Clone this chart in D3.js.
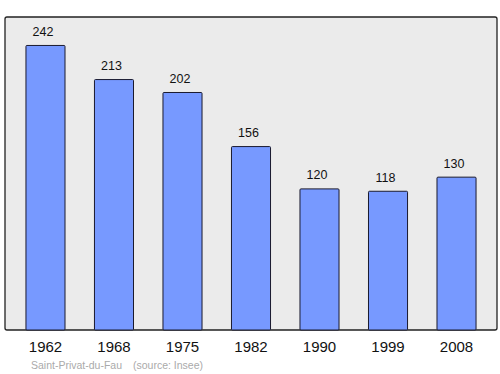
<!DOCTYPE html>
<html>
<head>
<meta charset="utf-8">
<script src="https://cdn.jsdelivr.net/npm/d3@7"></script>
<style>
  body { margin: 0; background: #fff; }
  svg { display: block; font-family: "Liberation Sans", Arial, sans-serif; }
</style>
</head>
<body>
<svg width="500" height="374"></svg>
<script>
const years = ["1962", "1968", "1975", "1982", "1990", "1999", "2008"];
const population = [242, 213, 202, 156, 120, 118, 130];
const commune = "Saint-Privat-du-Fau";
const source = "(source: Insee)";

let width = 500;
let height = 374;
let plot = { left: 5, top: 17, right: 497, bottom: 330 };

let svg = d3.select("svg").attr("width", width).attr("height", height);

let x = d3
  .scaleBand()
  .domain(years)
  .range([plot.left, plot.right])
  .paddingInner(0.43)
  .paddingOuter(0.306);

let y = d3
  .scaleLinear()
  .domain([0, d3.max(population) * 1.1])
  .range([plot.bottom, plot.top]);

// background frame
svg
  .append("rect")
  .attr("x", plot.left)
  .attr("y", plot.top)
  .attr("width", plot.right - plot.left)
  .attr("height", plot.bottom - plot.top)
  .attr("rx", 2)
  .attr("fill", "#ebebeb")
  .attr("stroke", "#222")
  .attr("stroke-width", 1.3);

let data = years.map((yr, i) => ({ year: yr, value: population[i] }));

svg
  .append("g")
  .selectAll("rect")
  .data(data)
  .enter()
  .append("rect")
  .attr("x", d => x(d.year))
  .attr("y", d => y(d.value))
  .attr("width", x.bandwidth())
  .attr("height", d => plot.bottom - y(d.value))
  .attr("rx", 1)
  .attr("fill", "#7799ff")
  .attr("stroke", "#1a1a2e")
  .attr("stroke-width", 1);

// value labels (sit a bit left of bar centre, as in the original)
svg
  .append("g")
  .selectAll("text")
  .data(data)
  .enter()
  .append("text")
  .attr("x", d => x(d.year) + x.bandwidth() / 2 - 2.5)
  .attr("y", d => y(d.value) - 9.5)
  .attr("text-anchor", "middle")
  .attr("font-size", 12.5)
  .attr("fill", "#111")
  .text(d => d.value);

// year labels
let xAxis = d3.axisBottom(x).tickSize(0).tickPadding(11);
let axisG = svg
  .append("g")
  .attr("transform", `translate(0,${plot.bottom})`)
  .call(xAxis);
axisG.select(".domain").remove();
axisG
  .selectAll("text")
  .attr("font-size", 15)
  .attr("font-family", "'Liberation Sans', Arial, sans-serif")
  .attr("fill", "#111");

// source line
let foot = svg
  .append("g")
  .attr("font-size", 10.5)
  .attr("fill", "#aaaaaa");
foot.append("text").attr("x", 31).attr("y", 369).text(commune);
foot.append("text").attr("x", 133).attr("y", 369).text(source);
</script>
</body>
</html>
